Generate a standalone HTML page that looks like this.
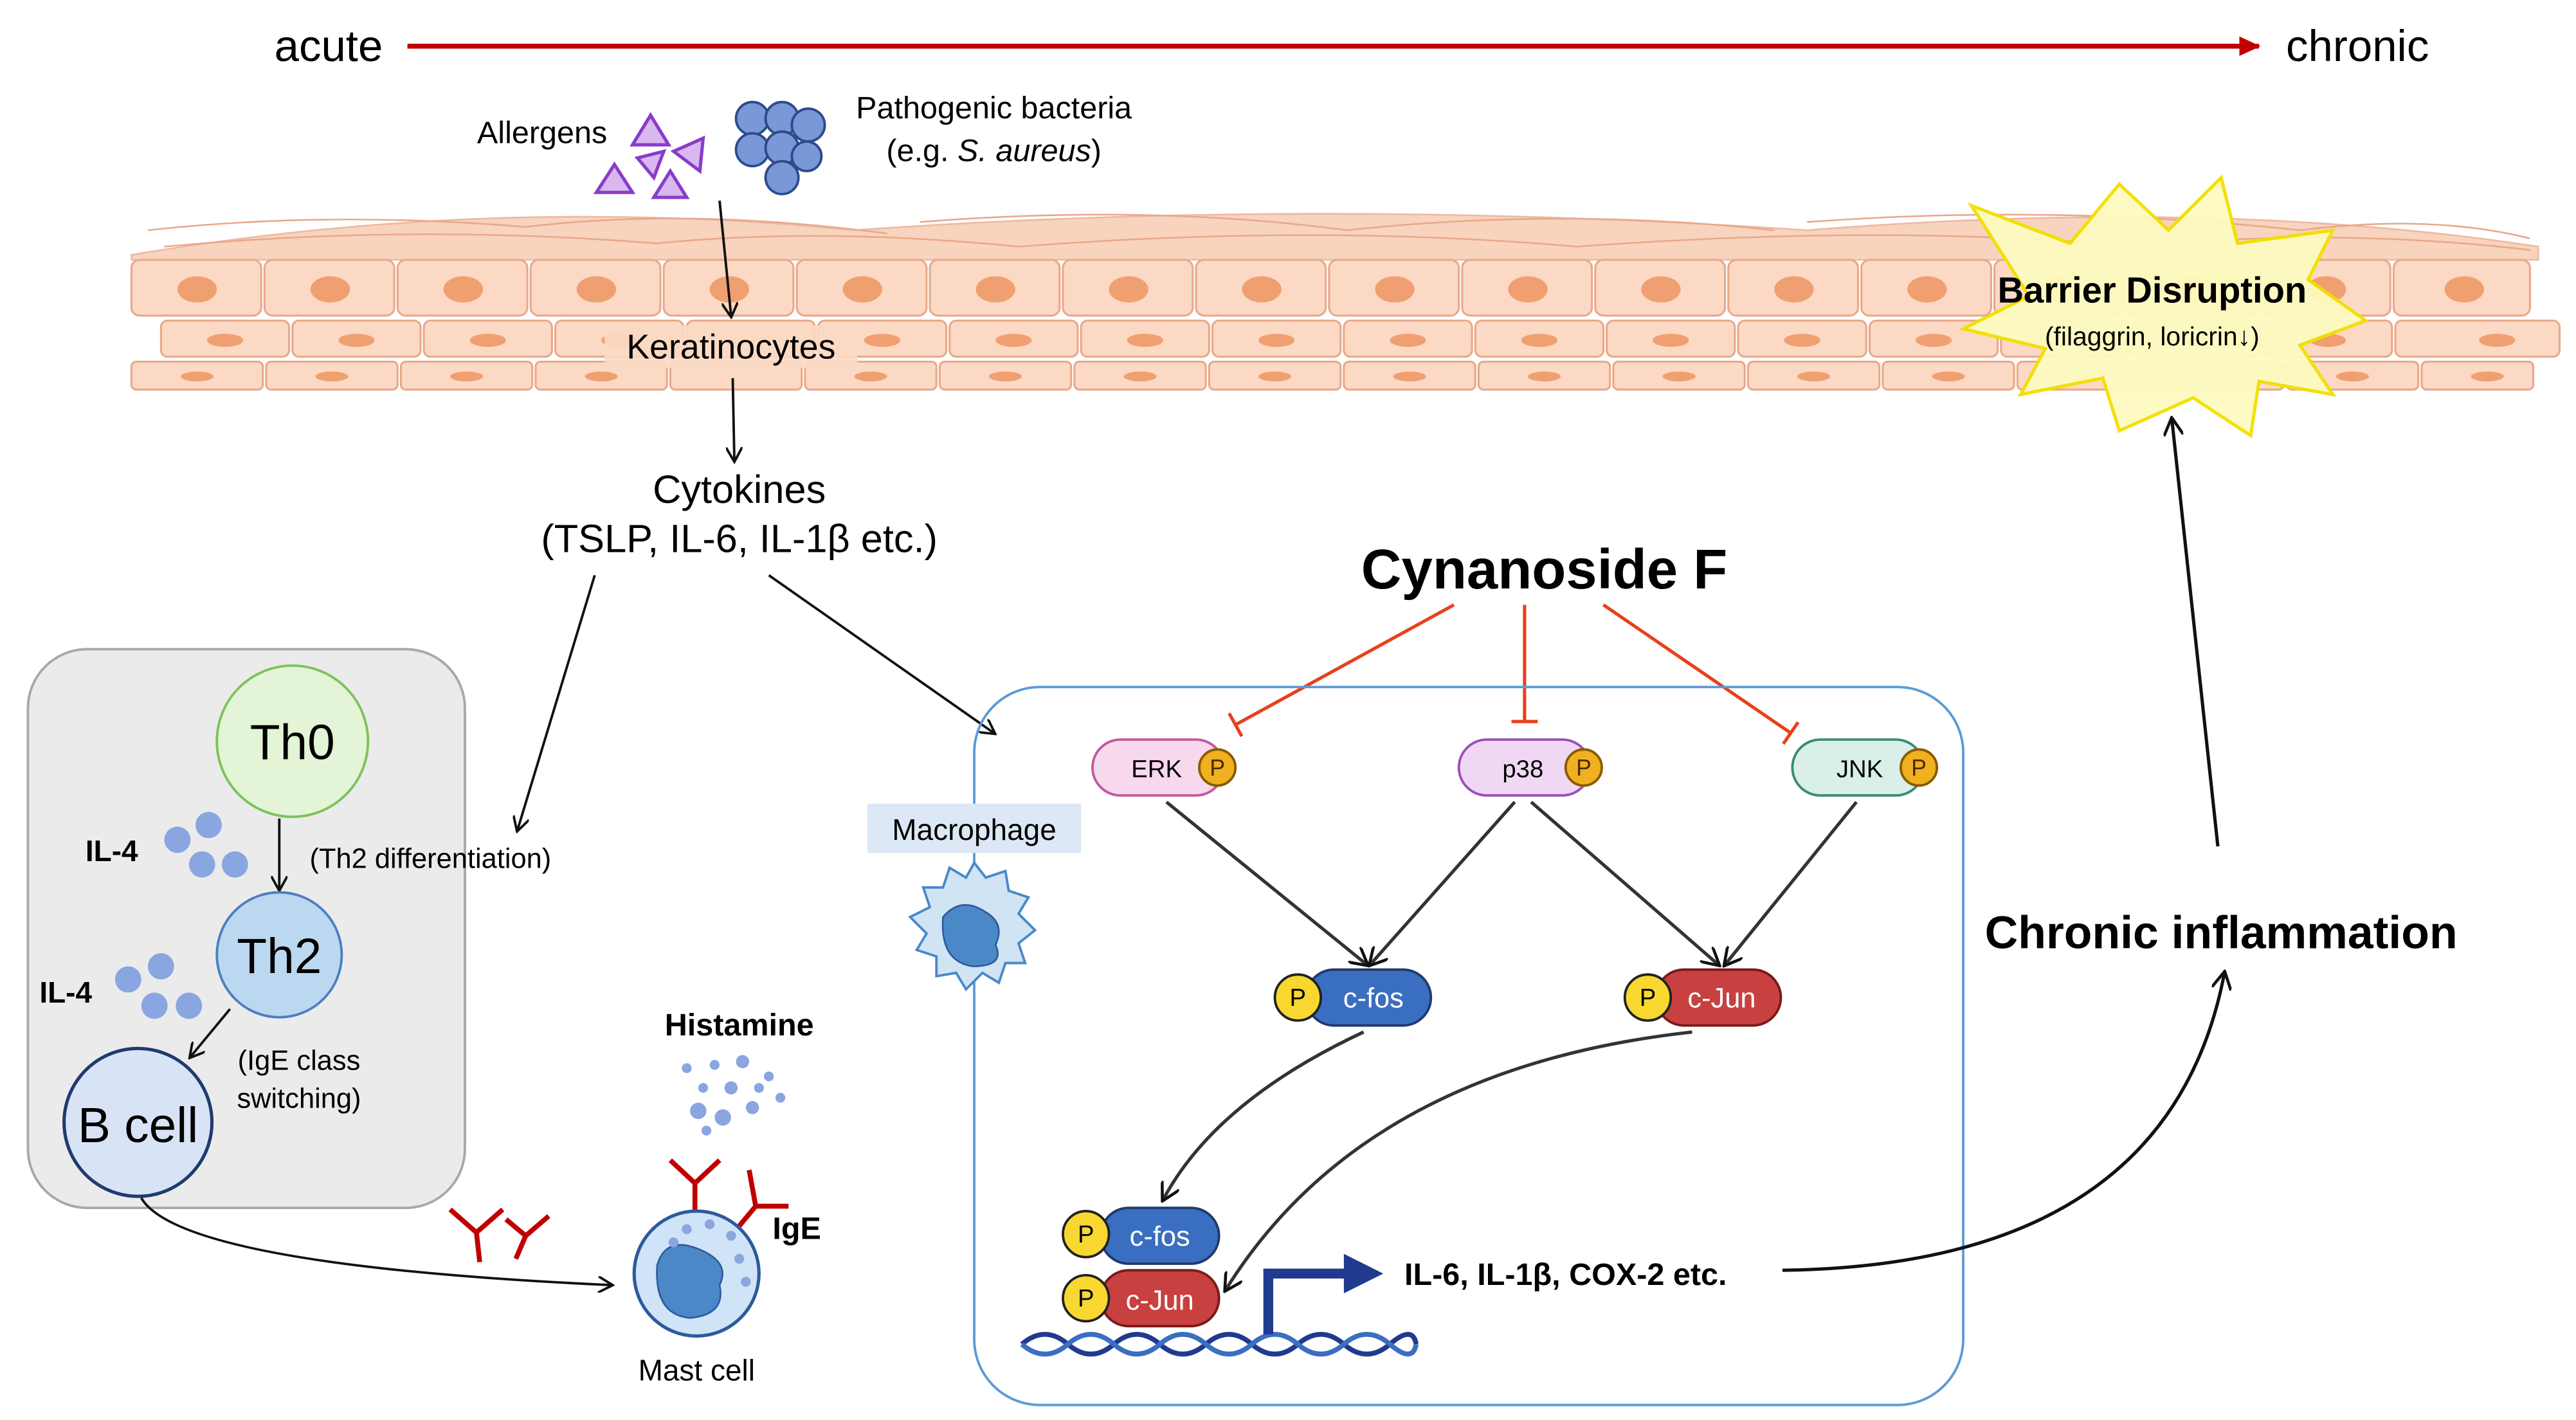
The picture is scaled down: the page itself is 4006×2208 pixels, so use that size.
<!DOCTYPE html>
<html><head><meta charset="utf-8"><style>
html,body{margin:0;padding:0;background:#fff}
svg{display:block}
text{font-family:"Liberation Sans",sans-serif}
</style></head><body>
<svg width="4006" height="2208" viewBox="0 0 1568 864" xmlns="http://www.w3.org/2000/svg">
<defs>
<marker id="ak" markerWidth="10" markerHeight="10" refX="8" refY="5" orient="auto" markerUnits="userSpaceOnUse"><path d="M0,0 L9,5 L0,10" fill="none" stroke="#111" stroke-width="1.5"/></marker>
<marker id="ar" markerWidth="14" markerHeight="12" refX="12" refY="6" orient="auto" markerUnits="userSpaceOnUse"><path d="M0,0 L13,6 L0,12 Z" fill="#c00000"/></marker>
<marker id="tb" markerWidth="4" markerHeight="16" refX="2" refY="8" orient="auto" markerUnits="userSpaceOnUse"><path d="M2,0 L2,16" stroke="#e8401c" stroke-width="2"/></marker>
<marker id="ab" markerWidth="12" markerHeight="12" refX="10" refY="6" orient="auto" markerUnits="userSpaceOnUse"><path d="M0,0 L11,6 L0,12" fill="none" stroke="#111" stroke-width="1.8"/></marker>
</defs>
<rect width="1568" height="864" fill="#fff"/>
<text x="200" y="37" font-size="27" text-anchor="middle">acute</text>
<line x1="248" y1="28" x2="1375" y2="28" stroke="#c00000" stroke-width="3" marker-end="url(#ar)"/>
<text x="1435" y="37" font-size="27" text-anchor="middle">chronic</text>

<g fill="#f7c9ad" stroke="#e8a88a" stroke-width="1">
<path d="M80,155 Q300,118 520,140 Q800,120 1100,140 Q1350,120 1545,150 L1545,158 L80,158 Z" opacity="0.8"/>
<path d="M90,140 Q200,128 320,138 Q420,126 540,142 M560,135 Q700,124 820,140 Q950,126 1080,140 M1100,135 Q1250,124 1400,140 Q1480,130 1540,145" fill="none"/>
<path d="M100,150 Q250,136 400,148 Q500,138 620,150 Q800,136 960,150 Q1150,136 1300,150 Q1420,138 1540,152" fill="none"/>
</g>
<g fill="#fbd9c4" stroke="#e8a88a" stroke-width="1.2">
<rect x="80" y="158" width="79" height="34" rx="5"/><rect x="161" y="158" width="79" height="34" rx="5"/><rect x="242" y="158" width="79" height="34" rx="5"/><rect x="323" y="158" width="79" height="34" rx="5"/><rect x="404" y="158" width="79" height="34" rx="5"/><rect x="485" y="158" width="79" height="34" rx="5"/><rect x="566" y="158" width="79" height="34" rx="5"/><rect x="647" y="158" width="79" height="34" rx="5"/><rect x="728" y="158" width="79" height="34" rx="5"/><rect x="809" y="158" width="79" height="34" rx="5"/><rect x="890" y="158" width="79" height="34" rx="5"/><rect x="971" y="158" width="79" height="34" rx="5"/><rect x="1052" y="158" width="79" height="34" rx="5"/><rect x="1133" y="158" width="79" height="34" rx="5"/><rect x="1214" y="158" width="79" height="34" rx="5"/><rect x="1295" y="158" width="79" height="34" rx="5"/><rect x="1376" y="158" width="79" height="34" rx="5"/><rect x="1457" y="158" width="83" height="34" rx="5"/>
<rect x="98" y="195" width="78" height="22" rx="4"/><rect x="178" y="195" width="78" height="22" rx="4"/><rect x="258" y="195" width="78" height="22" rx="4"/><rect x="338" y="195" width="78" height="22" rx="4"/><rect x="418" y="195" width="78" height="22" rx="4"/><rect x="498" y="195" width="78" height="22" rx="4"/><rect x="578" y="195" width="78" height="22" rx="4"/><rect x="658" y="195" width="78" height="22" rx="4"/><rect x="738" y="195" width="78" height="22" rx="4"/><rect x="818" y="195" width="78" height="22" rx="4"/><rect x="898" y="195" width="78" height="22" rx="4"/><rect x="978" y="195" width="78" height="22" rx="4"/><rect x="1058" y="195" width="78" height="22" rx="4"/><rect x="1138" y="195" width="78" height="22" rx="4"/><rect x="1218" y="195" width="78" height="22" rx="4"/><rect x="1298" y="195" width="78" height="22" rx="4"/><rect x="1378" y="195" width="78" height="22" rx="4"/><rect x="1458" y="195" width="100" height="22" rx="4"/>
<rect x="80" y="220" width="80" height="17" rx="3"/><rect x="162" y="220" width="80" height="17" rx="3"/><rect x="244" y="220" width="80" height="17" rx="3"/><rect x="326" y="220" width="80" height="17" rx="3"/><rect x="408" y="220" width="80" height="17" rx="3"/><rect x="490" y="220" width="80" height="17" rx="3"/><rect x="572" y="220" width="80" height="17" rx="3"/><rect x="654" y="220" width="80" height="17" rx="3"/><rect x="736" y="220" width="80" height="17" rx="3"/><rect x="818" y="220" width="80" height="17" rx="3"/><rect x="900" y="220" width="80" height="17" rx="3"/><rect x="982" y="220" width="80" height="17" rx="3"/><rect x="1064" y="220" width="80" height="17" rx="3"/><rect x="1146" y="220" width="80" height="17" rx="3"/><rect x="1228" y="220" width="80" height="17" rx="3"/><rect x="1310" y="220" width="80" height="17" rx="3"/><rect x="1392" y="220" width="80" height="17" rx="3"/><rect x="1474" y="220" width="68" height="17" rx="3"/>
</g>
<g fill="#f0a070">
<ellipse cx="120" cy="176" rx="12" ry="8"/><ellipse cx="201" cy="176" rx="12" ry="8"/><ellipse cx="282" cy="176" rx="12" ry="8"/><ellipse cx="363" cy="176" rx="12" ry="8"/><ellipse cx="444" cy="176" rx="12" ry="8"/><ellipse cx="525" cy="176" rx="12" ry="8"/><ellipse cx="606" cy="176" rx="12" ry="8"/><ellipse cx="687" cy="176" rx="12" ry="8"/><ellipse cx="768" cy="176" rx="12" ry="8"/><ellipse cx="849" cy="176" rx="12" ry="8"/><ellipse cx="930" cy="176" rx="12" ry="8"/><ellipse cx="1011" cy="176" rx="12" ry="8"/><ellipse cx="1092" cy="176" rx="12" ry="8"/><ellipse cx="1173" cy="176" rx="12" ry="8"/><ellipse cx="1254" cy="176" rx="12" ry="8"/><ellipse cx="1335" cy="176" rx="12" ry="8"/><ellipse cx="1416" cy="176" rx="12" ry="8"/><ellipse cx="1500" cy="176" rx="12" ry="8"/>
<ellipse cx="137" cy="207" rx="11" ry="4"/><ellipse cx="217" cy="207" rx="11" ry="4"/><ellipse cx="297" cy="207" rx="11" ry="4"/><ellipse cx="377" cy="207" rx="11" ry="4"/><ellipse cx="537" cy="207" rx="11" ry="4"/><ellipse cx="617" cy="207" rx="11" ry="4"/><ellipse cx="697" cy="207" rx="11" ry="4"/><ellipse cx="777" cy="207" rx="11" ry="4"/><ellipse cx="857" cy="207" rx="11" ry="4"/><ellipse cx="937" cy="207" rx="11" ry="4"/><ellipse cx="1017" cy="207" rx="11" ry="4"/><ellipse cx="1097" cy="207" rx="11" ry="4"/><ellipse cx="1177" cy="207" rx="11" ry="4"/><ellipse cx="1417" cy="207" rx="11" ry="4"/><ellipse cx="1520" cy="207" rx="11" ry="4"/>
<ellipse cx="120" cy="229" rx="10" ry="3"/><ellipse cx="202" cy="229" rx="10" ry="3"/><ellipse cx="284" cy="229" rx="10" ry="3"/><ellipse cx="366" cy="229" rx="10" ry="3"/><ellipse cx="530" cy="229" rx="10" ry="3"/><ellipse cx="612" cy="229" rx="10" ry="3"/><ellipse cx="694" cy="229" rx="10" ry="3"/><ellipse cx="776" cy="229" rx="10" ry="3"/><ellipse cx="858" cy="229" rx="10" ry="3"/><ellipse cx="940" cy="229" rx="10" ry="3"/><ellipse cx="1022" cy="229" rx="10" ry="3"/><ellipse cx="1104" cy="229" rx="10" ry="3"/><ellipse cx="1186" cy="229" rx="10" ry="3"/><ellipse cx="1432" cy="229" rx="10" ry="3"/><ellipse cx="1514" cy="229" rx="10" ry="3"/>
</g>

<text x="330" y="87" font-size="19" text-anchor="middle">Allergens</text>
<g fill="#d9b8f0" stroke="#8a3cc8" stroke-width="2">
<path d="M396,70 L407,88 L385,88 Z"/><path d="M374,100 L385,117 L363,117 Z"/><path d="M388,96 L404,92 L398,108 Z"/><path d="M410,92 L428,84 L426,104 Z"/><path d="M408,104 L418,120 L398,120 Z"/>
</g>
<g fill="#7a98d8" stroke="#2c4a8c" stroke-width="1.5">
<circle cx="458" cy="72" r="10"/><circle cx="476" cy="72" r="10"/><circle cx="492" cy="76" r="10"/><circle cx="458" cy="91" r="10"/><circle cx="476" cy="90" r="10"/><circle cx="491" cy="95" r="9"/><circle cx="476" cy="108" r="10"/>
</g>
<text x="605" y="72" font-size="19" text-anchor="middle">Pathogenic bacteria</text>
<text x="605" y="98" font-size="19" text-anchor="middle">(e.g. <tspan font-style="italic">S. aureus</tspan>)</text>

<line x1="438" y1="122" x2="445" y2="192" stroke="#111" stroke-width="1.5" marker-end="url(#ak)"/>
<rect x="368" y="198" width="154" height="26" fill="#fbd9c4" opacity="0.9"/>
<text x="445" y="218" font-size="21" text-anchor="middle">Keratinocytes</text>
<line x1="446" y1="230" x2="447" y2="280" stroke="#111" stroke-width="1.5" marker-end="url(#ak)"/>
<text x="450" y="306" font-size="24" text-anchor="middle">Cytokines</text>
<text x="450" y="336" font-size="24" text-anchor="middle">(TSLP, IL-6, IL-1β etc.)</text>
<line x1="362" y1="350" x2="315" y2="505" stroke="#111" stroke-width="1.5" marker-end="url(#ak)"/>
<line x1="468" y1="350" x2="605" y2="446" stroke="#111" stroke-width="1.5" marker-end="url(#ak)"/>

<path d="M1200,125 L1260,148 L1290,112 L1320,140 L1352,108 L1362,148 L1420,140 L1405,170 L1440,195 L1400,210 L1420,240 L1375,232 L1370,265 L1335,242 L1290,262 L1280,230 L1230,240 L1245,212 L1195,200 L1235,180 Z" fill="#fdfbc0" stroke="#f2e000" stroke-width="2" opacity="0.95"/>
<text x="1310" y="184" font-size="22" font-weight="bold" text-anchor="middle">Barrier Disruption</text>
<text x="1310" y="210" font-size="16" text-anchor="middle">(filaggrin, loricrin↓)</text>
<line x1="1350" y1="515" x2="1322" y2="255" stroke="#111" stroke-width="2" marker-end="url(#ab)"/>
<text x="1352" y="577" font-size="28" font-weight="bold" text-anchor="middle">Chronic inflammation</text>

<rect x="17" y="395" width="266" height="340" rx="36" fill="#ebebeb" stroke="#a8a8a8" stroke-width="1.5"/>
<circle cx="178" cy="451" r="46" fill="#e4f4d6" stroke="#7cc25a" stroke-width="1.5"/>
<text x="178" y="462" font-size="30" text-anchor="middle">Th0</text>
<line x1="170" y1="498" x2="170" y2="541" stroke="#111" stroke-width="1.5" marker-end="url(#ak)"/>
<text x="262" y="528" font-size="17" text-anchor="middle">(Th2 differentiation)</text>
<g fill="#8aa6e0"><circle cx="108" cy="511" r="8"/><circle cx="127" cy="502" r="8"/><circle cx="123" cy="526" r="8"/><circle cx="143" cy="526" r="8"/><circle cx="98" cy="588" r="8"/><circle cx="78" cy="596" r="8"/><circle cx="94" cy="612" r="8"/><circle cx="115" cy="612" r="8"/></g>
<text x="68" y="524" font-size="18" font-weight="bold" text-anchor="middle">IL-4</text>
<text x="40" y="610" font-size="18" font-weight="bold" text-anchor="middle">IL-4</text>
<circle cx="170" cy="581" r="38" fill="#bcd8f0" stroke="#4a80c0" stroke-width="1.5"/>
<text x="170" y="592" font-size="30" text-anchor="middle">Th2</text>
<line x1="140" y1="614" x2="116" y2="643" stroke="#111" stroke-width="1.5" marker-end="url(#ak)"/>
<text x="182" y="651" font-size="17" text-anchor="middle">(IgE class</text>
<text x="182" y="674" font-size="17" text-anchor="middle">switching)</text>
<circle cx="84" cy="683" r="45" fill="#d8e4f6" stroke="#1f3a6e" stroke-width="2"/>
<text x="84" y="695" font-size="30" text-anchor="middle">B cell</text>
<path d="M86,729 Q110,770 372,782" fill="none" stroke="#111" stroke-width="1.5" marker-end="url(#ak)"/>

<g stroke="#c00000" stroke-width="3" fill="none">
<path d="M274,736 L290,750 L306,736 M290,750 L292,768"/>
<path d="M308,742 L320,752 L334,740 M320,752 L314,766"/>
<path d="M408,706 L423,720 L438,706 M423,720 L423,738"/>
<path d="M456,712 L460,734 L480,734 M460,734 L450,746"/>
</g>
<text x="450" y="630" font-size="19" font-weight="bold" text-anchor="middle">Histamine</text>
<g fill="#8aa6e0"><circle cx="418" cy="650" r="3"/><circle cx="435" cy="648" r="3"/><circle cx="452" cy="646" r="4"/><circle cx="468" cy="655" r="3"/><circle cx="428" cy="662" r="3"/><circle cx="445" cy="662" r="4"/><circle cx="462" cy="662" r="3"/><circle cx="475" cy="668" r="3"/><circle cx="425" cy="676" r="5"/><circle cx="440" cy="680" r="5"/><circle cx="458" cy="674" r="4"/><circle cx="430" cy="688" r="3"/></g>
<circle cx="424" cy="775" r="38" fill="#cfe4f6" stroke="#2c5a9c" stroke-width="2"/>
<path d="M400,770 Q405,752 425,760 Q445,768 438,782 Q442,800 420,802 Q398,800 400,770 Z" fill="#4a88c8" stroke="#2c5a9c"/>
<g fill="#8aa6e0"><circle cx="418" cy="748" r="3"/><circle cx="432" cy="745" r="3"/><circle cx="445" cy="752" r="3"/><circle cx="450" cy="766" r="3"/><circle cx="454" cy="780" r="3"/><circle cx="410" cy="756" r="3"/></g>
<text x="485" y="754" font-size="19" font-weight="bold" text-anchor="middle">IgE</text>
<text x="424" y="840" font-size="18" text-anchor="middle">Mast cell</text>

<text x="940" y="358" font-size="34" font-weight="bold" text-anchor="middle">Cynanoside F</text>
<g stroke="#e8401c" stroke-width="2">
<line x1="885" y1="368" x2="752" y2="441" marker-end="url(#tb)"/>
<line x1="928" y1="368" x2="928" y2="439" marker-end="url(#tb)"/>
<line x1="976" y1="368" x2="1090" y2="446" marker-end="url(#tb)"/>
</g>
<rect x="593" y="418" width="602" height="437" rx="40" fill="none" stroke="#5b9bd5" stroke-width="1.5"/>
<rect x="528" y="489" width="130" height="30" fill="#dce8f5"/>
<text x="593" y="511" font-size="18" text-anchor="middle">Macrophage</text>
<path d="M593,525 L600,534 L612,530 L614,542 L626,546 L620,556 L630,566 L620,574 L624,586 L612,586 L608,598 L598,592 L588,602 L582,592 L570,594 L570,582 L558,578 L564,568 L554,558 L566,552 L562,540 L574,540 L578,528 L588,534 Z" fill="#d0e4f4" stroke="#4a88c8" stroke-width="1.5"/>
<path d="M574,558 Q585,545 600,555 Q612,562 606,575 Q612,588 592,588 Q572,585 574,558 Z" fill="#4a88c8" stroke="#2c5a9c"/>

<rect x="665" y="450" width="80" height="34" rx="17" fill="#f8d8ec" stroke="#c05aa0" stroke-width="1.5"/>
<text x="704" y="473" font-size="15" text-anchor="middle">ERK</text>
<rect x="888" y="450" width="80" height="34" rx="17" fill="#f0d8f4" stroke="#9a50b8" stroke-width="1.5"/>
<text x="927" y="473" font-size="15" text-anchor="middle">p38</text>
<rect x="1091" y="450" width="80" height="34" rx="17" fill="#d8f0e8" stroke="#3a8a78" stroke-width="1.5"/>
<text x="1132" y="473" font-size="15" text-anchor="middle">JNK</text>
<g fill="#f0b020" stroke="#8a5a00" stroke-width="1.5">
<circle cx="741" cy="467" r="11"/><circle cx="964" cy="467" r="11"/><circle cx="1168" cy="467" r="11"/>
</g>
<g font-size="14" text-anchor="middle" fill="#4a2a00"><text x="741" y="472">P</text><text x="964" y="472">P</text><text x="1168" y="472">P</text></g>

<g stroke="#333" stroke-width="2">
<line x1="710" y1="488" x2="832" y2="587" marker-end="url(#ab)"/>
<line x1="922" y1="488" x2="834" y2="587" marker-end="url(#ab)"/>
<line x1="932" y1="488" x2="1046" y2="587" marker-end="url(#ab)"/>
<line x1="1130" y1="488" x2="1050" y2="587" marker-end="url(#ab)"/>
</g>
<rect x="795" y="590" width="76" height="34" rx="17" fill="#3a6ec0" stroke="#1f3a6e" stroke-width="1.5"/>
<text x="836" y="613" font-size="17" fill="#fff" text-anchor="middle">c-fos</text>
<rect x="1008" y="590" width="76" height="34" rx="17" fill="#c84040" stroke="#7a1a1a" stroke-width="1.5"/>
<text x="1048" y="613" font-size="17" fill="#fff" text-anchor="middle">c-Jun</text>
<rect x="670" y="735" width="72" height="34" rx="17" fill="#3a6ec0" stroke="#1f3a6e" stroke-width="1.5"/>
<text x="706" y="758" font-size="17" fill="#fff" text-anchor="middle">c-fos</text>
<rect x="670" y="773" width="72" height="34" rx="17" fill="#c84040" stroke="#7a1a1a" stroke-width="1.5"/>
<text x="706" y="797" font-size="17" fill="#fff" text-anchor="middle">c-Jun</text>
<g fill="#f8d830" stroke="#222" stroke-width="1.5">
<circle cx="790" cy="607" r="14"/><circle cx="1003" cy="607" r="14"/><circle cx="661" cy="751" r="14"/><circle cx="661" cy="790" r="14"/>
</g>
<g font-size="15" text-anchor="middle"><text x="790" y="612">P</text><text x="1003" y="612">P</text><text x="661" y="756">P</text><text x="661" y="795">P</text></g>
<path d="M830,628 Q740,670 708,730" fill="none" stroke="#333" stroke-width="2" marker-end="url(#ab)"/>
<path d="M1030,628 Q830,650 746,785" fill="none" stroke="#333" stroke-width="2" marker-end="url(#ab)"/>

<g fill="none" stroke-width="3">
<path d="M622,818 Q636,806 650,818 T678,818 T706,818 T734,818 T762,818 T790,818 T818,818 T846,818 T862,818" stroke="#1f3a8e"/>
<path d="M622,818 Q636,830 650,818 T678,818 T706,818 T734,818 T762,818 T790,818 T818,818 T846,818 T862,818" stroke="#3a6ec0"/>
</g>
<path d="M772,812 L772,775 L820,775" fill="none" stroke="#1f3a8e" stroke-width="6"/>
<path d="M818,763 L842,775 L818,787 Z" fill="#1f3a8e"/>
<text x="953" y="782" font-size="19" font-weight="bold" text-anchor="middle">IL-6, IL-1β, COX-2 etc.</text>
<path d="M1085,773 Q1320,770 1354,592" fill="none" stroke="#111" stroke-width="2" marker-end="url(#ab)"/>
</svg>
</body></html>
